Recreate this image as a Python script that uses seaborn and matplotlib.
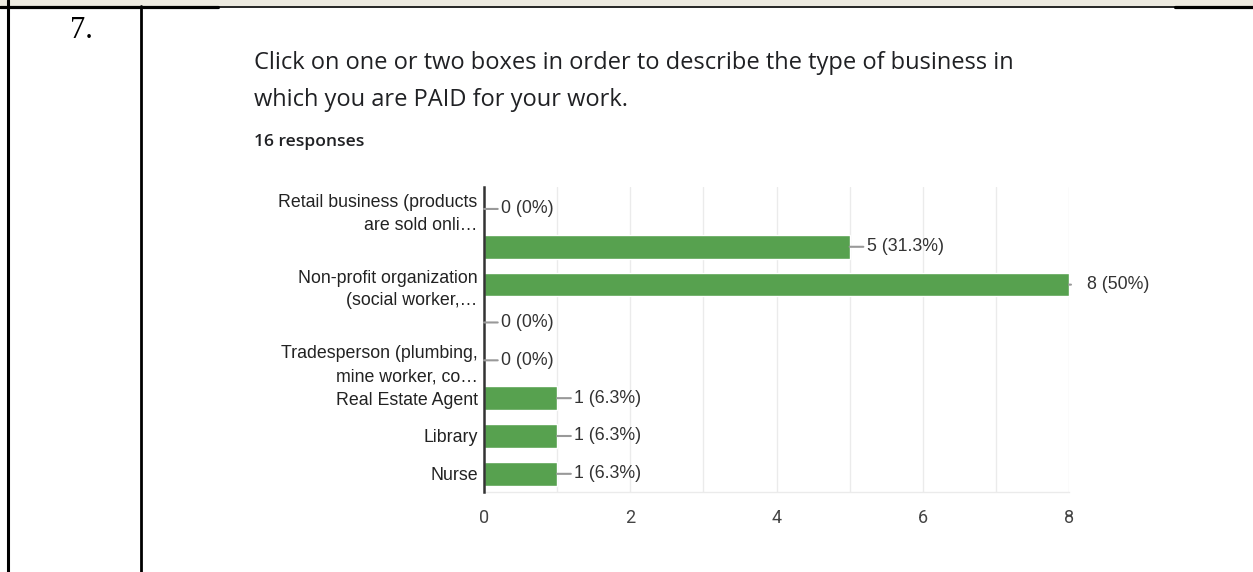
import matplotlib
matplotlib.use("Agg")
import matplotlib.pyplot as plt
from matplotlib.lines import Line2D
from matplotlib.patches import Rectangle
import seaborn as sns
import pandas as pd

# Survey question data
question_number = "7."
title_lines = [
    "Click on one or two boxes in order to describe the type of business in",
    "which you are PAID for your work.",
]
responses_note = "16 responses"
tick_labels = [
    "Retail business (products\nare sold onli\u2026",
    "",
    "Non-profit organization\n(social worker,\u2026",
    "",
    "Tradesperson (plumbing,\nmine worker, co\u2026",
    "Real Estate Agent",
    "Library",
    "Nurse",
]
counts = [0, 5, 8, 0, 0, 1, 1, 1]
percents = ["0%", "31.3%", "50%", "0%", "0%", "6.3%", "6.3%", "6.3%"]
x_ticks = [0, 2, 4, 6, 8]

W, H = 1253, 572
sns.set_theme(style="white")
plt.rcParams["font.family"] = ["Liberation Sans", "DejaVu Sans"]

fig = plt.figure(figsize=(W / 100, H / 100), dpi=100)
fig.patch.set_facecolor("white")


def fx(px):
    return px / W


def fy(py):
    return 1 - py / H


# Table frame around the question cell
fig.add_artist(Rectangle((0, fy(5.5)), 1, 5.5 / H, transform=fig.transFigure,
                         facecolor="#edeae0", edgecolor="none", zorder=0))
for x0, x1, lw in [(0, 218, 2.3), (218, 1175, 1.2), (1175, 1253, 2.3)]:
    fig.add_artist(Line2D([fx(x0), fx(x1)], [fy(6.5), fy(6.5)],
                          transform=fig.transFigure, color="black", lw=lw))
fig.add_artist(Line2D([fx(8), fx(8)], [0, 1], transform=fig.transFigure,
                      color="black", lw=2.2))
fig.add_artist(Line2D([fx(141), fx(141)], [0, fy(6)], transform=fig.transFigure,
                      color="black", lw=2.0))
fig.text(fx(81), fy(30), question_number, family="Liberation Serif",
         fontsize=22, color="black", ha="center", va="center")

# Heading text
fig.text(fx(254), fy(69), title_lines[0], family="Open Sans", fontsize=17,
         color="#202124", ha="left", va="baseline")
fig.text(fx(254), fy(106), title_lines[1], family="Open Sans", fontsize=17,
         color="#202124", ha="left", va="baseline")
fig.text(fx(254), fy(146), responses_note, family="Open Sans", fontsize=12.6,
         fontweight="semibold", color="#202124", ha="left", va="baseline")

# Bar chart
ax = fig.add_axes([fx(484), fy(492), fx(1069) - fx(484), (492 - 187) / H])
slots = [str(i) for i in range(len(counts))]
df = pd.DataFrame({"slot": slots, "count": counts})
sns.barplot(data=df, x="count", y="slot", orient="h", order=slots,
            color="#57a14f", saturation=1, width=0.62, ax=ax, zorder=3)

ax.set_xlim(0, 8)
ax.set_ylim(len(counts) - 0.52, -0.58)
ax.set_xlabel("")
ax.set_ylabel("")
ax.set_xticks(x_ticks, [str(t) for t in x_ticks])
for v in range(1, 9):
    ax.axvline(v, color="#ebebeb", lw=1.0, zorder=0)
ax.tick_params(axis="x", length=0, pad=12, labelsize=13, labelcolor="#444444")
for lab in ax.get_xticklabels():
    lab.set_family("Roboto")

ax.set_yticks(range(len(counts)))
ax.set_yticklabels(tick_labels)
ax.tick_params(axis="y", length=0, pad=4.5, labelsize=12.8, labelcolor="#222222")
for lab in ax.get_yticklabels():
    lab.set_multialignment("right")
    lab.set_linespacing(1.45)

for side in ["top", "right"]:
    ax.spines[side].set_visible(False)
ax.spines["left"].set_color("#333333")
ax.spines["left"].set_linewidth(1.8)
ax.spines["left"].set_zorder(5)
ax.spines["bottom"].set_color("#ebebeb")
ax.spines["bottom"].set_linewidth(1.0)

# Value labels with short leader lines
leader = dict(arrowstyle="-", color="#999999", lw=1.5, shrinkA=0, shrinkB=0)
for i, (c, p) in enumerate(zip(counts, percents)):
    text = f"{c} ({p})"
    if c >= 8:
        ax.annotate(text, xy=(c, i), xytext=(18, 0), textcoords="offset pixels",
                    ha="left", va="center", fontsize=12.8, color="#333333",
                    annotation_clip=False)
        ax.annotate("", xy=(c, i), xytext=(2, 0), textcoords="offset pixels",
                    arrowprops=leader, annotation_clip=False)
    else:
        ax.annotate(text, xy=(c, i), xytext=(17, 0), textcoords="offset pixels",
                    ha="left", va="center", fontsize=12.8, color="#333333",
                    arrowprops=leader, annotation_clip=False, zorder=6)

fig.savefig("out.png", dpi=100)
